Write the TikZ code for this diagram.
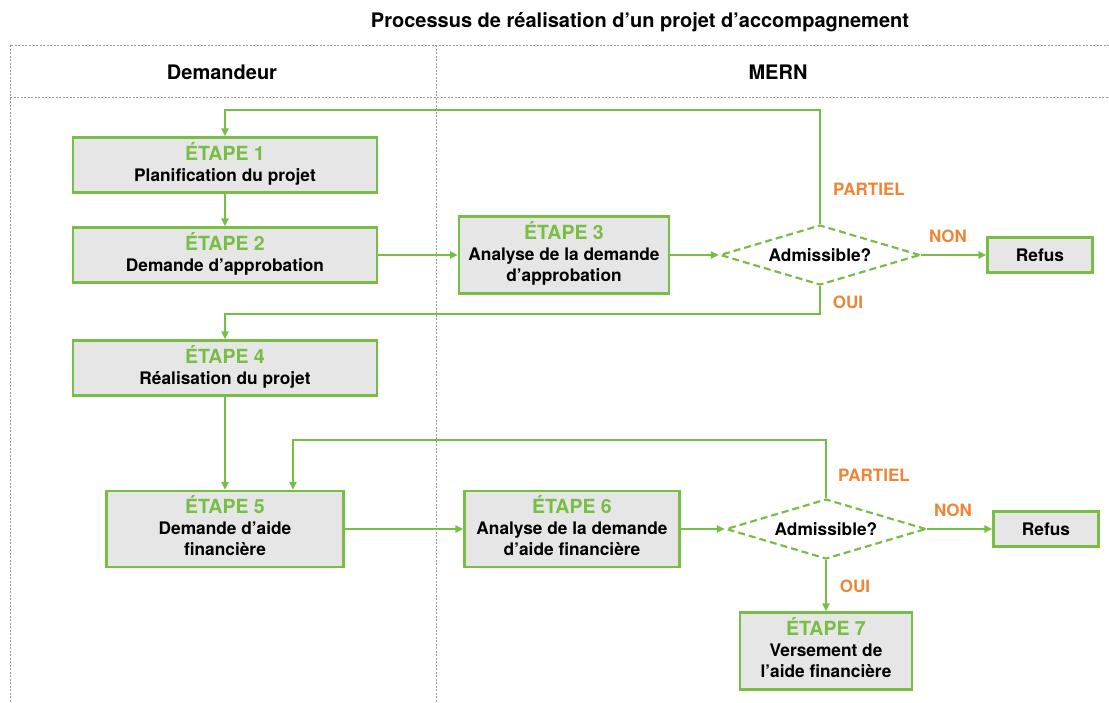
\documentclass[tikz,border=0pt]{standalone}
\usepackage{fontspec}
\setmainfont{TeX Gyre Heros}
\usepackage{xcolor}
\usepackage{tikz}
\usetikzlibrary{arrows.meta,shapes,shapes.geometric}
\usetikzlibrary{positioning}

\definecolor{vert}{RGB}{120,190,68}
\definecolor{orangelbl}{RGB}{240,132,52}
\definecolor{grisfond}{RGB}{230,230,230}

\begin{document}
\begin{tikzpicture}[x=1pt,y=-1pt]
    \tikzstyle{etape}=[draw=vert, fill=grisfond, line width=2.2pt, inner sep=0pt, font=\bfseries\fontsize{17.3}{21}\selectfont];
    \tikzstyle{choix}=[diamond, draw=vert, dash pattern=on 7pt off 4pt, line width=2.2pt, aspect=3.3, minimum width=200pt, minimum height=60pt, inner sep=1pt, font=\bfseries\fontsize{17.3}{21}\selectfont];
    \tikzstyle{lien}=[draw=vert, line width=2pt, -{Triangle[length=8pt,width=7pt]}];
    \tikzstyle{reponse}=[text=orangelbl, font=\bfseries\fontsize{17}{20}\selectfont];
    \tikzstyle{entete}=[font=\bfseries\fontsize{20}{24}\selectfont];
    \tikzstyle{cadre}=[draw=gray!80, line width=0.8pt, dash pattern=on 2pt off 1.5pt];
    \useasboundingbox (0,0) rectangle (1109,702);
    % couloirs
    \path[draw][cadre] (1109,45) -- (10,45) -- (10,702);
    \path[draw][cadre] (10,97) -- (1109,97);
    \path[draw][cadre] (436,45) -- (436,702);
    \node[entete] (titre) at (640,22) {Processus de réalisation d’un projet d’accompagnement};
    \node[entete] (demandeur) at (222,72) {Demandeur};
    \node[entete] (mern) at (778,72) {MERN};
    % etapes
    \node[etape, minimum width=304pt, minimum height=55pt] (e1) at (225,165) {
    \begin{tabular}{c}
    {\color{vert}\fontsize{19.5}{21}\selectfont ÉTAPE 1}\\
    Planification du projet
    \end{tabular}
    };
    \node[etape, minimum width=304pt, minimum height=55pt] (e2) at (225,255) {
    \begin{tabular}{c}
    {\color{vert}\fontsize{19.5}{21}\selectfont ÉTAPE 2}\\
    Demande d’approbation
    \end{tabular}
    };
    \node[etape, minimum width=210pt, minimum height=77pt] (e3) at (564,255) {
    \begin{tabular}{c}
    {\color{vert}\fontsize{19.5}{21}\selectfont ÉTAPE 3}\\
    Analyse de la demande\\
    d’approbation
    \end{tabular}
    };
    \node[choix] (d1) at (820,255) {Admissible?};
    \node[etape, minimum width=105pt, minimum height=35pt] (r1) at (1040,255) {Refus};
    \node[etape, minimum width=304pt, minimum height=55pt] (e4) at (225,368) {
    \begin{tabular}{c}
    {\color{vert}\fontsize{19.5}{21}\selectfont ÉTAPE 4}\\
    Réalisation du projet
    \end{tabular}
    };
    \node[etape, minimum width=237pt, minimum height=76pt] (e5) at (225,529) {
    \begin{tabular}{c}
    {\color{vert}\fontsize{19.5}{21}\selectfont ÉTAPE 5}\\
    Demande d’aide\\
    financière
    \end{tabular}
    };
    \node[etape, minimum width=215pt, minimum height=76pt] (e6) at (572,529) {
    \begin{tabular}{c}
    {\color{vert}\fontsize{19.5}{21}\selectfont ÉTAPE 6}\\
    Analyse de la demande\\
    d’aide financière
    \end{tabular}
    };
    \node[choix] (d2) at (826,529) {Admissible?};
    \node[etape, minimum width=105pt, minimum height=35pt] (r2) at (1046,529) {Refus};
    \node[etape, minimum width=172pt, minimum height=77pt] (e7) at (826,651) {
    \begin{tabular}{c}
    {\color{vert}\fontsize{19.5}{21}\selectfont ÉTAPE 7}\\
    Versement de\\
    l’aide financière
    \end{tabular}
    };
    % reponses
    \node[reponse] (partiel1) at (869,189) {PARTIEL};
    \node[reponse] (non1) at (948,236) {NON};
    \node[reponse] (oui1) at (848,302) {OUI};
    \node[reponse] (partiel2) at (874,475) {PARTIEL};
    \node[reponse] (non2) at (953,510) {NON};
    \node[reponse] (oui2) at (855,586) {OUI};
    % liens
    \path[draw] [lien] (e1) -- (e2);
    \path[draw] [lien] (e2) -- (e3);
    \path[draw] [lien] (e3) -- (d1.west);
    \path[draw] [lien] (d1.east) -- (r1);
    \path[draw] [lien] (d1.north) -- ++(0,-114) -| (e1.north);
    \path[draw] [lien] (d1.south) -- ++(0,28) -| (e4.north);
    \path[draw] [lien] (e4) -- (e5);
    \path[draw] [lien] (e5) -- (e6);
    \path[draw] [lien] (e6) -- (d2.west);
    \path[draw] [lien] (d2.east) -- (r2);
    \path[draw] [lien] (d2.north) -- ++(0,-58) -| ([xshift=68pt]e5.north);
    \path[draw] [lien] (d2.south) -- (e7);
\end{tikzpicture}
\end{document}
